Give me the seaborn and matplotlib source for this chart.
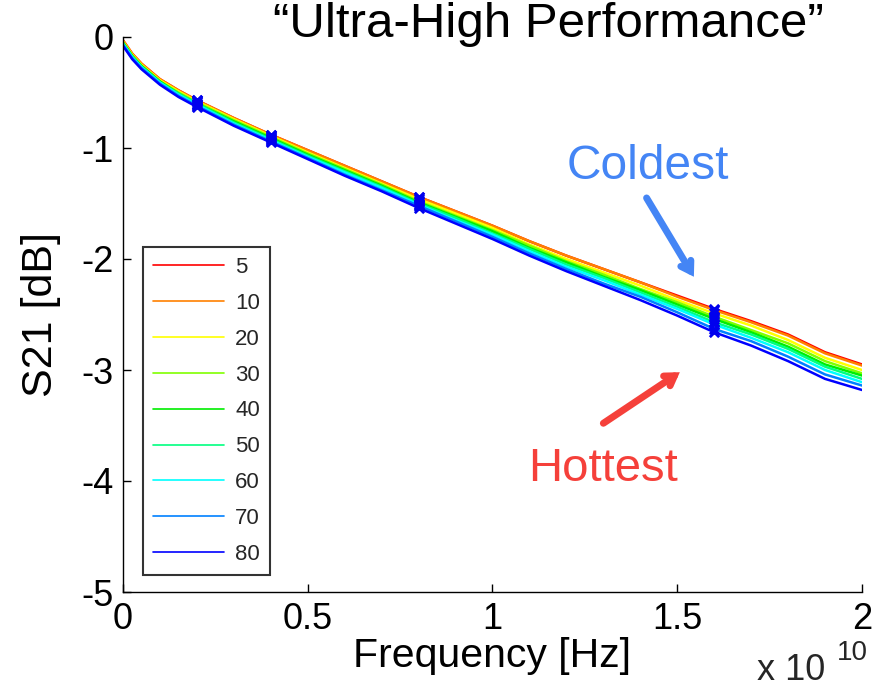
import numpy as np
import pandas as pd
import matplotlib
matplotlib.use("Agg")
import matplotlib.pyplot as plt
import seaborn as sns

# ---------------- data ----------------
freq_e10 = [0.0, 0.025, 0.05, 0.1, 0.15, 0.2, 0.3, 0.4, 0.5, 0.6, 0.7, 0.8, 0.9, 1.0,
            1.1, 1.2, 1.3, 1.4, 1.5, 1.6, 1.7, 1.8, 1.9, 2.0]
temps = ["5", "10", "20", "30", "40", "50", "60", "70", "80"]

s21_5 = [-0.03, -0.15, -0.24, -0.38, -0.48, -0.57, -0.73, -0.88, -1.02, -1.16, -1.30, -1.44, -1.57,
         -1.70, -1.84, -1.97, -2.09, -2.21, -2.33, -2.45, -2.56, -2.68, -2.84, -2.95]
s21_10 = [-0.03, -0.15, -0.24, -0.38, -0.48, -0.57, -0.73, -0.88, -1.02, -1.16, -1.30, -1.44, -1.57,
          -1.70, -1.84, -1.97, -2.09, -2.21, -2.34, -2.46, -2.57, -2.69, -2.85, -2.96]
s21_20 = [-0.04, -0.16, -0.25, -0.39, -0.49, -0.58, -0.74, -0.89, -1.04, -1.18, -1.32, -1.46, -1.59,
          -1.72, -1.87, -2.00, -2.12, -2.24, -2.37, -2.49, -2.60, -2.73, -2.89, -3.00]
s21_30 = [-0.05, -0.17, -0.26, -0.40, -0.50, -0.59, -0.75, -0.90, -1.05, -1.19, -1.33, -1.48, -1.61,
          -1.74, -1.88, -2.02, -2.14, -2.27, -2.39, -2.52, -2.64, -2.76, -2.92, -3.03]
s21_40 = [-0.05, -0.17, -0.26, -0.40, -0.51, -0.60, -0.76, -0.91, -1.06, -1.20, -1.34, -1.49, -1.62,
          -1.75, -1.90, -2.03, -2.16, -2.28, -2.41, -2.54, -2.66, -2.79, -2.95, -3.05]
s21_50 = [-0.06, -0.18, -0.27, -0.41, -0.51, -0.60, -0.77, -0.92, -1.07, -1.21, -1.35, -1.50, -1.63,
          -1.77, -1.91, -2.05, -2.17, -2.30, -2.43, -2.57, -2.68, -2.81, -2.97, -3.08]
s21_60 = [-0.06, -0.18, -0.27, -0.41, -0.52, -0.61, -0.78, -0.93, -1.08, -1.22, -1.36, -1.51, -1.65,
          -1.78, -1.93, -2.07, -2.19, -2.32, -2.45, -2.59, -2.71, -2.84, -3.00, -3.11]
s21_70 = [-0.07, -0.19, -0.28, -0.42, -0.53, -0.62, -0.79, -0.94, -1.09, -1.24, -1.38, -1.52, -1.66,
          -1.80, -1.95, -2.09, -2.22, -2.34, -2.48, -2.63, -2.74, -2.88, -3.04, -3.14]
s21_80 = [-0.08, -0.20, -0.29, -0.43, -0.54, -0.63, -0.80, -0.95, -1.10, -1.25, -1.39, -1.54, -1.68,
          -1.82, -1.97, -2.11, -2.24, -2.37, -2.51, -2.66, -2.78, -2.92, -3.08, -3.18]

marker_freqs_e10 = [0.2, 0.4, 0.8, 1.6]
x_ticks = [0, 0.5, 1, 1.5, 2]
x_tick_labels = ["0", "0.5", "1", "1.5", "2"]
y_ticks = [0, -1, -2, -3, -4, -5]
y_tick_labels = ["0", "-1", "-2", "-3", "-4", "-5"]

series = [s21_5, s21_10, s21_20, s21_30, s21_40, s21_50, s21_60, s21_70, s21_80]
palette = ["#FF0000", "#FF8000", "#FFFF00", "#80FF00", "#00EE00",
           "#00FF80", "#00FFFF", "#0080FF", "#0000FF"]

rows = []
for t, vals in zip(temps, series):
    for f, v in zip(freq_e10, vals):
        rows.append({"freq": f * 1e10, "s21": v, "temp": t})
df = pd.DataFrame(rows)

# ---------------- style ----------------
sns.set_theme(style="white")
plt.rcParams["font.family"] = ["Liberation Sans", "DejaVu Sans"]

fig = plt.figure(figsize=(8.89, 6.92), dpi=100)
ax = fig.add_axes([123 / 889, 1 - 592 / 692, (862 - 123) / 889, (592 - 37) / 692])

sns.lineplot(data=df, x="freq", y="s21", hue="temp", hue_order=temps,
             palette=palette, estimator=None, linewidth=1.8, ax=ax)

mdf = df[np.isclose(df["freq"].values[:, None] / 1e10, np.array(marker_freqs_e10)[None, :]).any(axis=1)]
sns.scatterplot(data=mdf, x="freq", y="s21", marker="x", color="#0000EE",
                s=45, linewidth=2.0, ax=ax, legend=False, zorder=5)

ax.set_xlim(0, 2e10)
ax.set_ylim(-5, 0)
ax.set_xticks([v * 1e10 for v in x_ticks])
ax.set_xticklabels(x_tick_labels)
ax.set_yticks(y_ticks)
ax.set_yticklabels(y_tick_labels)
ax.tick_params(axis="both", direction="in", length=6, width=1, labelsize=26,
               colors="black", bottom=True, left=True)
ax.tick_params(axis="y", pad=7)
ax.tick_params(axis="x", pad=7)
for side in ["top", "right"]:
    ax.spines[side].set_visible(False)
for side in ["left", "bottom"]:
    ax.spines[side].set_color("black")
    ax.spines[side].set_linewidth(1.0)
ax.patch.set_alpha(0)

ax.set_xlabel("Frequency [Hz]", fontsize=29.5, color="black", labelpad=0)
ax.set_ylabel("S21 [dB]", fontsize=31, color="black", labelpad=14)

handles, labels = ax.get_legend_handles_labels()
leg = ax.legend(handles[:9], labels[:9], loc="lower left",
                bbox_to_anchor=(20 / 739, 17 / 555), borderaxespad=0,
                fontsize=16, frameon=True, fancybox=False, edgecolor="black",
                handlelength=3.2, handletextpad=0.5, labelspacing=0.67,
                borderpad=0.45)
leg.get_frame().set_linewidth(1.5)
for h in leg.get_lines():
    h.set_linewidth(1.2)

# offset text "x 10^10"
fig.text(757 / 889, 4 / 692, "x 10", fontsize=26, ha="left", va="bottom")
fig.text(837 / 889, 1 - 660 / 692, "10", fontsize=20, ha="left", va="baseline")

# title
fig.text(548 / 889, 1 - 37 / 692, "\u201cUltra-High Performance\u201d",
         fontsize=35.5, ha="center", va="baseline", color="black")

# annotations
blue_c = "#4485F5"
red_c = "#F5403A"
ax.text(1.42e10, -1.28, "Coldest", fontsize=34.5, color=blue_c, ha="center", va="baseline")
ax.text(1.30e10, -4.00, "Hottest", fontsize=34, color=red_c, ha="center", va="baseline")
ax.annotate("", xy=(1.545e10, -2.16), xytext=(1.417e10, -1.45),
            arrowprops=dict(arrowstyle="->,head_length=0.55,head_width=0.35",
                            color=blue_c, lw=5, shrinkA=0, shrinkB=0,
                            capstyle="round", joinstyle="miter"))
ax.annotate("", xy=(1.507e10, -3.02), xytext=(1.30e10, -3.48),
            arrowprops=dict(arrowstyle="->,head_length=0.55,head_width=0.35",
                            color=red_c, lw=5, shrinkA=0, shrinkB=0,
                            capstyle="round", joinstyle="miter"))

fig.savefig("out.png", dpi=100)
